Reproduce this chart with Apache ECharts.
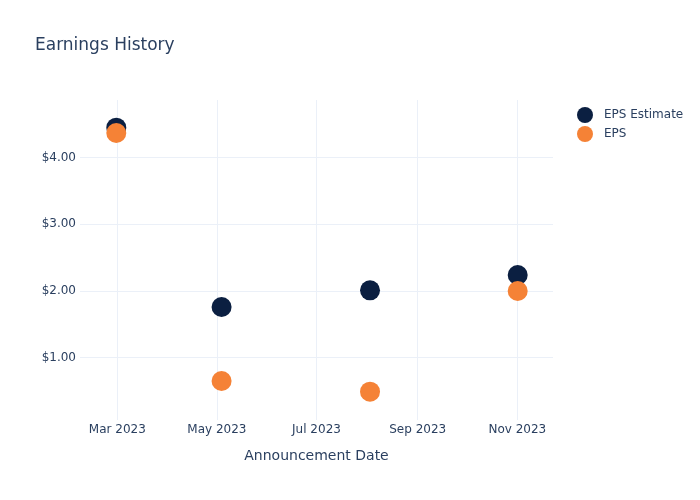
<!DOCTYPE html>
<html>
<head>
<meta charset="utf-8">
<script src="https://cdn.jsdelivr.net/npm/echarts@6/dist/echarts.min.js"></script>
<style>html,body{margin:0;padding:0;background:#fff}#c{width:700px;height:500px}</style>
</head>
<body>
<div id="c"></div>
<script>
const dates = ['2023-02-28T09:00:00Z', '2023-05-03T21:00:00Z', '2023-08-02T19:00:00Z', '2023-11-01T06:00:00Z'];
const epsEstimate = [4.45, 1.76, 2.01, 2.24];
const eps = [4.37, 0.65, 0.49, 2.00];
const xTickDates = ['2023-03-01T00:00:00Z', '2023-05-01T00:00:00Z', '2023-07-01T00:00:00Z', '2023-09-01T00:00:00Z', '2023-11-01T00:00:00Z'];
const xTickLabels = ['Mar 2023', 'May 2023', 'Jul 2023', 'Sep 2023', 'Nov 2023'];
const yTickValues = [1, 2, 3, 4];

const toMs = d => Date.parse(d);
const xTicks = xTickDates.map(toMs);
const day = 86400000;
const xMin = toMs('2023-03-01T00:00:00Z') - 22.85 * day;
const xMax = toMs('2023-11-01T00:00:00Z') + 21.87 * day;

const textColor = '#2a3f5f';
const gridColor = '#ebf0f8';
const font = 'DejaVu Sans, sans-serif';

const chart = echarts.init(document.getElementById('c'), null, {renderer: 'canvas'});
chart.setOption({
  animation: false,
  backgroundColor: '#fff',
  title: {
    text: 'Earnings History',
    left: 35, top: 37, padding: 0,
    textStyle: {color: textColor, fontSize: 17, fontWeight: 'normal', fontFamily: font}
  },
  legend: {
    left: 572, top: 102, orient: 'vertical', itemGap: 3,
    itemWidth: 16, itemHeight: 16, icon: 'circle',
    textStyle: {color: textColor, fontSize: 12, fontFamily: font, padding: [0, 0, 0, 6]},
    data: ['EPS Estimate', 'EPS']
  },
  grid: {left: 80, right: 147, top: 100, bottom: 80, containLabel: false},
  xAxis: {
    type: 'value', min: xMin, max: xMax,
    name: 'Announcement Date', nameLocation: 'middle', nameGap: 29,
    nameTextStyle: {color: textColor, fontSize: 14, fontFamily: font},
    axisLine: {show: false}, axisTick: {show: false, customValues: xTicks},
    axisLabel: {
      customValues: xTicks, margin: 4, color: textColor, fontSize: 12, fontFamily: font,
      formatter: v => { const i = xTicks.indexOf(v); return i >= 0 ? xTickLabels[i] : ''; }
    },
    splitLine: {show: true, lineStyle: {color: gridColor, width: 1}}
  },
  yAxis: {
    type: 'value', min: 0.065, max: 4.865,
    axisLine: {show: false}, axisTick: {show: false, customValues: yTickValues},
    axisLabel: {
      customValues: yTickValues, margin: 4, color: textColor, fontSize: 12, fontFamily: font,
      formatter: v => '$' + v.toFixed(2)
    },
    splitLine: {show: true, lineStyle: {color: gridColor, width: 1}}
  },
  series: [
    {
      name: 'EPS Estimate', type: 'scatter', symbolSize: 20,
      itemStyle: {color: '#0b1f41', opacity: 1},
      data: dates.map((d, i) => [toMs(d), epsEstimate[i]])
    },
    {
      name: 'EPS', type: 'scatter', symbolSize: 20,
      itemStyle: {color: '#f58236', opacity: 1},
      data: dates.map((d, i) => [toMs(d), eps[i]])
    }
  ]
});
</script>
</body>
</html>
